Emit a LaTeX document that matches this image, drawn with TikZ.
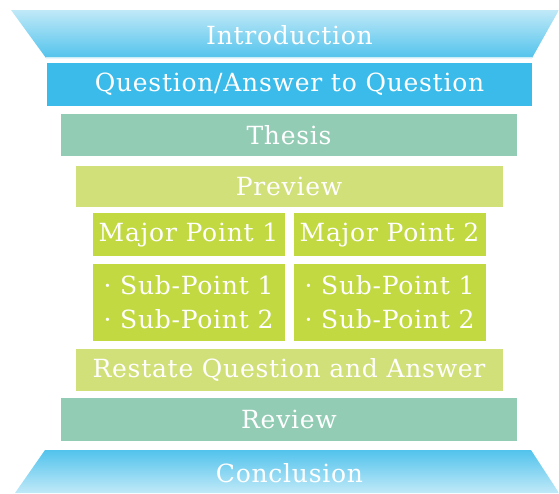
\documentclass[tikz,border=0pt]{standalone}
\usepackage{fontspec}
\setmainfont[LetterSpace=3]{DejaVu Serif}
\definecolor{introtop}{HTML}{C0E9F8}
\definecolor{introbot}{HTML}{52C3EC}
\definecolor{qacol}{HTML}{3BBBEA}
\definecolor{thesiscol}{HTML}{93CCB5}
\definecolor{previewcol}{HTML}{D2E07A}
\definecolor{majorcol}{HTML}{C2D942}
\tikzset{
  box/.style={rectangle, inner sep=0pt, text=white, font=\fontsize{25}{30}\selectfont, anchor=center},
  lbl/.style={inner sep=0pt, text=white, font=\fontsize{25}{30}\selectfont},
}
\begin{document}
\begin{tikzpicture}[x=1pt,y=-1pt]
\useasboundingbox (0,0) rectangle (559,493);
% Introduction funnel top
\shade[top color=introtop, bottom color=introbot] (11,10) -- (559,10) -- (532,58) -- (46,58) -- cycle;
\draw[white!70!introbot, line width=1pt] (46,57.5) -- (532,57.5);
\node[lbl] (intro) at (289.5,35) {Introduction};
% boxes
\node[box, fill=qacol, minimum width=485pt, minimum height=43pt] (qa) at (289.5,84.5) {Question/Answer to Question};
\node[box, fill=thesiscol, minimum width=456pt, minimum height=42pt] (thesis) at (289,135) {Thesis};
\node[box, fill=previewcol, minimum width=427pt, minimum height=41pt] (preview) at (289,186.5) {Preview};
\node[box, fill=majorcol, minimum width=192pt, minimum height=43pt] (maj1) at (188.5,234.5) {Major Point 1};
\node[box, fill=majorcol, minimum width=192pt, minimum height=43pt] (maj2) at (389.5,234.5) {Major Point 2};
\node[box, fill=majorcol, minimum width=192pt, minimum height=77pt, align=left] (sub1) at (188.5,302.5) {· Sub-Point 1\\[4pt]· Sub-Point 2};
\node[box, fill=majorcol, minimum width=192pt, minimum height=77pt, align=left] (sub2) at (389.5,302.5) {· Sub-Point 1\\[4pt]· Sub-Point 2};
\node[box, fill=previewcol, minimum width=427pt, minimum height=42pt] (restate) at (289,369.5) {Restate Question and Answer};
\node[box, fill=thesiscol, minimum width=456pt, minimum height=43pt] (review) at (289,419.5) {Review};
% Conclusion funnel bottom
\shade[top color=introbot, bottom color=introtop] (45,450) -- (531,450) -- (559,493) -- (15,493) -- cycle;
\node[lbl] (concl) at (289.5,473) {Conclusion};
\end{tikzpicture}
\end{document}
